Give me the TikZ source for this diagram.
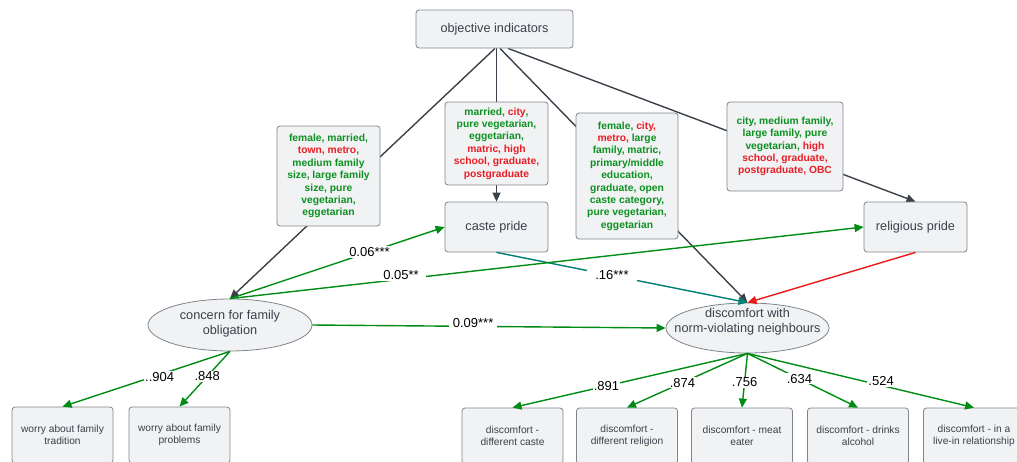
\documentclass[tikz,border=0pt]{standalone}
\usepackage{fontspec}
\setmainfont{Liberation Sans}
\usetikzlibrary{arrows.meta,shapes.geometric,backgrounds}
\definecolor{boxfill}{RGB}{241,242,244}
\definecolor{bordc}{RGB}{128,133,140}
\definecolor{txtc}{RGB}{58,65,74}
\definecolor{gtxt}{RGB}{12,145,32}
\definecolor{rtxt}{RGB}{232,30,37}
\definecolor{gline}{RGB}{0,140,20}
\definecolor{tline}{RGB}{0,128,118}
\definecolor{rline}{RGB}{235,25,25}
\definecolor{dline}{RGB}{58,65,74}
\newcommand{\fmain}{\fontsize{12.7}{15.2}\selectfont}
\newcommand{\fsmall}{\fontsize{10.2}{12.2}\selectfont}
\newcommand{\flabx}{\fontsize{10.3}{12.4}\selectfont\bfseries}
\newcommand{\fcoef}{\fontsize{13}{14}\selectfont}
\begin{document}
\begin{tikzpicture}[x=1pt,y=-1pt,
  box/.style={draw=bordc, line width=0.8pt, fill=boxfill, rounded corners=3pt, inner sep=0pt, text=txtc, align=center, font=\fmain},
  lbox/.style={box, text=gtxt, font=\flabx},
  sbox/.style={box, font=\fsmall, minimum width=101, minimum height=56},
  ell/.style={ellipse, draw=bordc, line width=0.8pt, fill=boxfill, inner sep=0pt},
  ellt/.style={text=txtc, align=center, font=\fmain, inner sep=0pt},
  coef/.style={fill=white, inner xsep=4pt, inner ysep=1pt, text=black, font=\fcoef},
  dk/.style={draw=dline, line width=1.4pt, -{Triangle[length=9pt,width=8pt]}},
  gr/.style={draw=gline, line width=1.4pt, -{Triangle[length=9pt,width=8pt]}},
  tl/.style={draw=tline, line width=1.4pt, -{Triangle[length=9pt,width=8pt]}},
  rd/.style={draw=rline, line width=1.4pt, -{Triangle[length=9pt,width=8pt]}}]
\useasboundingbox (0,0) rectangle (1017,461);
\clip (0,0) rectangle (1017,461);

% main nodes
\node[box, minimum width=157, minimum height=38] (obj) at (494.5,29) {objective indicators};
\node[box, minimum width=103, minimum height=50] (caste) at (496.5,227) {caste pride};
\node[box, minimum width=103, minimum height=50] (relig) at (915.5,227) {religious pride};
\node[ell, minimum width=164, minimum height=52] (conc) at (230,325) {};
\node[ellt] (conct) at (230,323.5) {concern for family\\obligation};
\node[ell, minimum width=163, minimum height=50] (disc) at (747.5,328) {};
\node[ellt] (disct) at (747.5,321.5) {discomfort with\\norm-violating neighbours};

% label boxes
\node[lbox, minimum width=103, minimum height=100] (l1) at (328.5,176) {female, married,\\{\color{rtxt}town, metro},\\medium family\\size, large family\\size, pure\\vegetarian,\\eggetarian};
\node[lbox, minimum width=103, minimum height=83] (l2) at (496.5,143.5) {married, {\color{rtxt}city},\\pure vegetarian,\\eggetarian,\\{\color{rtxt}matric, high}\\{\color{rtxt}school, graduate,}\\{\color{rtxt}postgraduate}};
\node[lbox, minimum width=102, minimum height=126] (l3) at (627,176) {female, {\color{rtxt}city,}\\{\color{rtxt}metro,} large\\family, matric,\\primary/middle\\education,\\graduate, open\\caste category,\\pure vegetarian,\\eggetarian};
\node[lbox, minimum width=116, minimum height=89] (l4) at (785,146.5) {city, medium family,\\large family, pure\\vegetarian, {\color{rtxt}high}\\{\color{rtxt}school, graduate,}\\{\color{rtxt}postgraduate, OBC}};

% bottom boxes
\node[sbox] (bl1) at (62.5,435) {worry about family\\tradition};
\node[sbox] (bl2) at (179.5,435) {worry about family\\problems};
\node[sbox] (br1) at (512.5,436) {discomfort -\\different caste};
\node[sbox] (br2) at (627,436) {discomfort -\\different religion};
\node[sbox] (br3) at (742,436) {discomfort - meat\\eater};
\node[sbox] (br4) at (858,436) {discomfort - drinks\\alcohol};
\node[sbox] (br5) at (974,436) {discomfort - in a\\live-in relationship};

% connectors from objective indicators (behind the label boxes)
\begin{scope}[on background layer]
\draw[dk] ([xshift=0.5pt]obj.south) -- (conc.north);
\draw[dk] ([xshift=2pt]obj.south) -- (caste.north);
\draw[dk] ([xshift=5.5pt]obj.south) -- (disc.north);
\draw[dk] ([xshift=13.5pt]obj.south) -- (relig.north);
\end{scope}

% structural paths
\draw[tl] (caste.south) -- node[coef, pos=0.46, inner xsep=8pt] {.16***} (disc.north);
\draw[rd] (relig.south) -- (disc.north);
\draw[gr] (conc.north) -- node[coef, pos=0.65] {0.06***} (caste.west);
\draw[gr] (conc.north) -- node[coef, pos=0.27, yshift=4pt, inner xsep=7pt] {0.05**} (relig.west);
\draw[gr] (conc.east) -- node[coef, pos=0.455, yshift=3pt] {0.09***} (disc.west);

% loadings
\draw[gr] (conc.south) -- node[coef, pos=0.42, yshift=-2pt, inner xsep=1pt] {..904} (bl1.north);
\draw[gr] (conc.south) -- node[coef, pos=0.45, inner xsep=1pt] {.848} (bl2.north);
\draw[gr] (disc.south) -- node[coef, pos=0.6, inner xsep=1pt] {.891} (br1.north);
\draw[gr] (disc.south) -- node[coef, pos=0.54, inner xsep=1pt] {.874} (br2.north);
\draw[gr] (disc.south) -- node[coef, pos=0.53, inner xsep=1pt] {.756} (br3.north);
\draw[gr] (disc.south) -- node[coef, pos=0.47, inner xsep=1pt] {.634} (br4.north);
\draw[gr] (disc.south) -- node[coef, pos=0.59, yshift=4pt, inner xsep=1pt] {.524} (br5.north);
\end{tikzpicture}
\end{document}
